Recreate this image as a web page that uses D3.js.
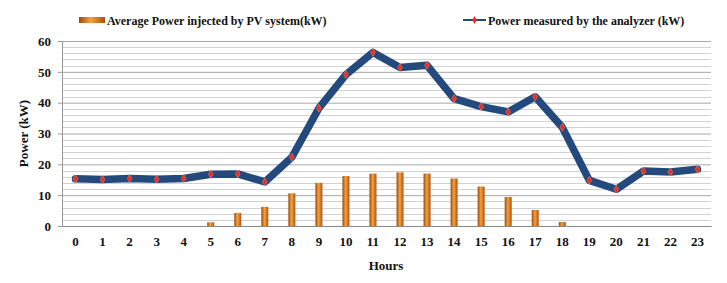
<!DOCTYPE html>
<html>
<head>
<meta charset="utf-8">
<script src="https://cdn.jsdelivr.net/npm/d3@7"></script>
<style>
  body { margin: 0; background: #fff; }
  text { font-family: "Liberation Serif", "Times New Roman", serif; font-weight: bold; fill: #111; }
</style>
</head>
<body>
<svg class="chart"></svg>
<script>
// data
var hours = d3.range(0, 24);
var pvPower = [0, 0, 0, 0, 0, 1.2, 4.2, 6.2, 10.6, 14.0, 16.2, 17.0, 17.4, 17.0, 15.4, 12.8, 9.4, 5.2, 1.3, 0, 0, 0, 0, 0];
var analyzerPower = [15.3, 15.1, 15.4, 15.2, 15.4, 16.8, 16.9, 14.3, 22.3, 38.2, 49.1, 56.3, 51.4, 52.1, 41.3, 38.7, 37.0, 41.9, 32.0, 14.8, 11.9, 17.8, 17.5, 18.4];
var yTicks = [0, 10, 20, 30, 40, 50, 60];
var seriesNames = ["Average Power injected by PV system(kW)", "Power measured by the analyzer (kW)"];

var margin = {top: 41, right: 16, bottom: 57, left: 62},
    width = 727 - margin.left - margin.right,
    height = 283 - margin.top - margin.bottom;

var chart = d3.select('.chart')
    .attr('width', 727)
    .attr('height', 283);

var defs = chart.append('defs');
var grad = defs.append('linearGradient').attr('id', 'barGrad')
    .attr('x1', '0%').attr('x2', '100%').attr('y1', '0%').attr('y2', '0%');
grad.append('stop').attr('offset', '0%').attr('stop-color', '#9a4a08');
grad.append('stop').attr('offset', '45%').attr('stop-color', '#f5a040');
grad.append('stop').attr('offset', '100%').attr('stop-color', '#a85410');

var x = d3.scaleBand().domain(hours).range([0, width]),
    y = d3.scaleLinear().domain([0, 60]).range([height, 0]);

var g = chart.append('g')
    .attr('transform', 'translate(' + margin.left + ',' + margin.top + ')');

// minor gridlines every 2
g.append('g').selectAll('line')
    .data(d3.range(2, 60, 2).filter(function(v) { return v % 10 !== 0; }))
  .enter().append('line')
    .attr('x1', 0).attr('x2', width)
    .attr('y1', function(d) { return Math.round(y(d)) + 0.5; })
    .attr('y2', function(d) { return Math.round(y(d)) + 0.5; })
    .attr('stroke', '#d2d2d2');

// major gridlines
g.append('g')
    .attr('class', 'grid')
    .call(d3.axisLeft(y).tickValues(yTicks.slice(1)).tickSize(-width).tickFormat(''))
    .call(function(s) {
      s.select('.domain').remove();
      s.selectAll('.tick line').attr('stroke', '#a8a8a8');
    });

// y axis
g.append('g')
    .call(d3.axisLeft(y).tickValues(yTicks).tickSize(4).tickPadding(7))
    .call(function(s) {
      s.attr('font-family', null).attr('font-size', null);
      s.select('.domain').attr('stroke', '#999');
      s.selectAll('.tick line').attr('stroke', '#999');
      s.selectAll('.tick text').style('font-size', '13px');
    });

// x axis
g.append('g')
    .attr('transform', 'translate(0,' + height + ')')
    .call(d3.axisBottom(x).tickSize(0).tickPadding(11))
    .call(function(s) {
      s.attr('font-family', null).attr('font-size', null);
      s.select('.domain').attr('stroke', '#888');
      s.selectAll('.tick text').style('font-size', '13px');
    });

// bars
g.selectAll('.bar')
    .data(pvPower)
  .enter().append('rect')
    .attr('class', 'bar')
    .attr('x', function(d, i) { return x(hours[i]) + x.bandwidth() / 2 - 3.5; })
    .attr('width', 7)
    .attr('y', function(d) { return y(d); })
    .attr('height', function(d) { return height - y(d); })
    .attr('fill', 'url(#barGrad)');

// line
var line = d3.line()
    .x(function(d, i) { return x(hours[i]) + x.bandwidth() / 2; })
    .y(function(d) { return y(d); });

g.append('path')
    .datum(analyzerPower)
    .attr('fill', 'none')
    .attr('stroke', '#24497c')
    .attr('stroke-width', 7.5)
    .attr('stroke-linejoin', 'round')
    .attr('stroke-linecap', 'round')
    .attr('d', line);

var marker = d3.symbol().type(d3.symbolDiamond).size(18);
g.selectAll('.pt')
    .data(analyzerPower)
  .enter().append('path')
    .attr('class', 'pt')
    .attr('transform', function(d, i) { return 'translate(' + (x(hours[i]) + x.bandwidth() / 2) + ',' + y(d) + ')'; })
    .attr('d', marker)
    .attr('fill', '#f02a1a')
    .attr('stroke', '#f88060')
    .attr('stroke-width', 0.6);

// axis titles
chart.append('text')
    .attr('transform', 'translate(28,' + (margin.top + height / 2) + ') rotate(-90)')
    .attr('text-anchor', 'middle')
    .style('font-size', '13px')
    .text('Power (kW)');

chart.append('text')
    .attr('x', 386)
    .attr('y', 270)
    .attr('text-anchor', 'middle')
    .style('font-size', '13px')
    .text('Hours');

// legend
chart.append('rect')
    .attr('x', 79).attr('y', 17).attr('width', 26).attr('height', 6)
    .attr('fill', 'url(#barGrad)');
chart.append('text')
    .attr('x', 107).attr('y', 25)
    .style('font-size', '12px')
    .text(seriesNames[0]);

chart.append('line')
    .attr('x1', 463).attr('x2', 486).attr('y1', 20).attr('y2', 20)
    .attr('stroke', '#24497c').attr('stroke-width', 2);
chart.append('path')
    .attr('transform', 'translate(474.5,20)')
    .attr('d', marker)
    .attr('fill', '#f02a1a');
chart.append('text')
    .attr('x', 488).attr('y', 25)
    .style('font-size', '12px')
    .text(seriesNames[1]);
</script>
</body>
</html>
